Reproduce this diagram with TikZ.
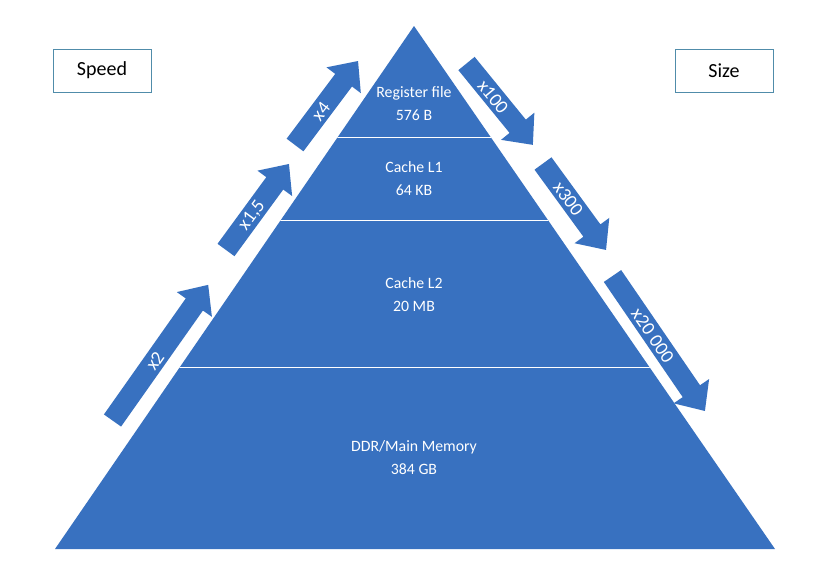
\documentclass[tikz,border=0pt]{standalone}
\usepackage{fontspec}
\setmainfont{Carlito}
\definecolor{pyr}{RGB}{56,113,192}
\definecolor{boxc}{RGB}{80,140,170}
\tikzset{
  albl/.style={text=white, font=\fontsize{19}{22}\selectfont, transform shape, inner sep=0pt},
  plbl/.style={text=white, align=center, font=\fontsize{15.8}{23}\selectfont, inner sep=0pt},
  sidebox/.style={draw=boxc, line width=0.8pt, minimum width=98pt, minimum height=43pt, font=\fontsize{20}{24}\selectfont, text=black},
  layerline/.style={white, line width=1pt}
}
\newcommand\flowarrow[6]{%
\begin{scope}[shift={(#2,#3)},rotate=#4]
\fill[pyr] (0pt,-10.5pt) -- ({#5pt-24pt},-10.5pt) -- ({#5pt-24pt},-21.5pt) -- (#5pt,0pt) -- ({#5pt-24pt},21.5pt) -- ({#5pt-24pt},10.5pt) -- (0pt,10.5pt) -- cycle;
\node[albl] (#1) at ({(#5pt-24pt)/2+2pt},-0.5pt) {#6};
\end{scope}}
\begin{document}
\begin{tikzpicture}[x=1pt,y=-1pt]
\useasboundingbox[fill=white] (0,0) rectangle (825,565);
% pyramid
\fill[pyr] (55,549) -- (414,26) -- (775,549) -- cycle;
\begin{scope}
\clip (55,549) -- (414,26) -- (775,549) -- cycle;
\draw[layerline] (0,137) -- (825,137);
\draw[layerline] (0,220) -- (825,220);
\draw[layerline] (0,367) -- (825,367);
\end{scope}
\node[plbl] (reg) at (414,104) {Register file\\576 B};
\node[plbl] (l1) at (414,179) {Cache L1\\64 KB};
\node[plbl] (l2) at (414,295) {Cache L2\\20 MB};
\node[plbl] (ddr) at (414,458) {DDR/Main Memory\\384 GB};
% side boxes
\node[sidebox] (speed) at (102,70.5) {Speed};
\node[sidebox] (size) at (724,70.5) {Size};
% arrows
\flowarrow{a2}{112.5}{420.5}{54.8}{166}{x2}
\flowarrow{a15}{226}{250}{53.8}{106.6}{x1,5}
\flowarrow{a4}{295}{145}{53.1}{105}{x4}
\flowarrow{a100}{466.5}{63.5}{-50.8}{105}{x100}
\flowarrow{a300}{543}{163.5}{-53.9}{107}{x300}
\flowarrow{a20k}{612.5}{276}{-55.6}{163.6}{x20 000}
\end{tikzpicture}
\end{document}
